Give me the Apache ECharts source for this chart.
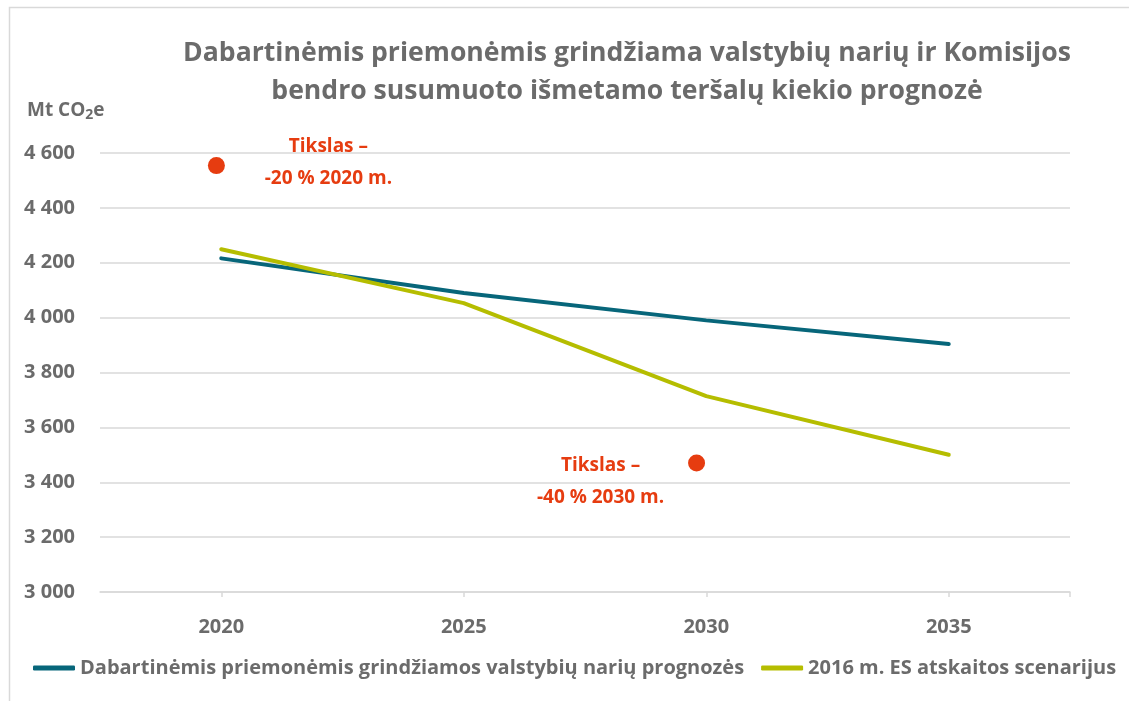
<!DOCTYPE html>
<html>
<head>
<meta charset="utf-8">
<script src="https://cdn.jsdelivr.net/npm/echarts@6/dist/echarts.min.js"></script>
<style>
html,body{margin:0;padding:0;background:#fff;}
#chart{width:1129px;height:701px;}
</style>
</head>
<body>
<div id="chart"></div>
<script>
// ---- data ----
const titleText = 'Dabartinėmis priemonėmis grindžiama valstybių narių ir Komisijos\nbendro susumuoto išmetamo teršalų kiekio prognozė';
const yAxisUnit = 'Mt CO{s|2}e';
const years = [2020, 2025, 2030, 2035];
const yearTicks = [2020, 2025, 2030, 2035, 2037.5];
const seriesNames = ['Dabartinėmis priemonėmis grindžiamos valstybių narių prognozės', '2016 m. ES atskaitos scenarijus'];
const currentMeasures = [4216, 4090, 3990, 3904];
const referenceScenario = [4249, 4053, 3714, 3500];
const targetYears = [2019.9, 2029.8];
const targetValues = [4554, 3470];
const targetLabels = ['Tikslas –\n-20 % 2020 m.', 'Tikslas –\n-40 % 2030 m.'];
const yTicks = [3000, 3200, 3400, 3600, 3800, 4000, 4200, 4400, 4600];

const FONT = 'Open Sans';
const GRAY = '#6b6b6b';
const TEAL = '#07667a';
const OLIVE = '#b5bd00';
const RED = '#e63c10';

const chart = echarts.init(document.getElementById('chart'));
const fmt = v => String(v).replace(/\B(?=(\d{3})+(?!\d))/g, ' ');

const option = {
  backgroundColor: '#fff',
  animation: false,
  graphic: [{
    type: 'rect', left: 7, top: 5, silent: true,
    shape: { width: 1140, height: 720 },
    style: { fill: 'none', stroke: '#d9d9d9', lineWidth: 1.5 }
  }],
  title: [{
    text: titleText,
    left: 622, top: 29, textAlign: 'center',
    textStyle: { fontFamily: FONT, fontSize: 26.6, fontWeight: 'bold', color: GRAY, lineHeight: 38 }
  }, {
    text: yAxisUnit,
    left: 22, top: 94,
    textStyle: {
      fontFamily: FONT, fontSize: 19, fontWeight: 'bold', color: GRAY,
      rich: { s: { fontFamily: FONT, fontSize: 14, fontWeight: 'bold', color: GRAY, verticalAlign: 'bottom', padding: [9, 0, 0, 0] } }
    }
  }],
  legend: {
    left: 33, top: 658, padding: 0, itemGap: 17, itemWidth: 42, itemHeight: 5, icon: 'roundRect',
    data: seriesNames,
    textStyle: { fontFamily: FONT, fontSize: 20, fontWeight: 'bold', color: GRAY }
  },
  grid: { left: 100, right: 59, top: 153, bottom: 109, containLabel: false },
  xAxis: {
    type: 'value', min: 2017.5, max: 2037.5,
    splitLine: { show: false },
    axisLine: { show: true, lineStyle: { color: '#d9d9d9', width: 1.5 } },
    axisTick: { show: true, length: 5, lineStyle: { color: '#d9d9d9', width: 1.5 }, customValues: yearTicks },
    axisLabel: { customValues: years, margin: 25, fontFamily: FONT, fontSize: 20, fontWeight: 'bold', color: GRAY, formatter: v => String(v) }
  },
  yAxis: {
    type: 'value', min: yTicks[0], max: yTicks[yTicks.length - 1], interval: 200,
    axisLine: { show: false }, axisTick: { show: false },
    splitLine: { lineStyle: { color: '#d9d9d9', width: 1.5 } },
    axisLabel: { margin: 25, fontFamily: FONT, fontSize: 20, fontWeight: 'bold', color: GRAY, formatter: fmt }
  },
  series: [{
    name: seriesNames[0], type: 'line', symbol: 'none',
    lineStyle: { color: TEAL, width: 4, cap: 'round' }, itemStyle: { color: TEAL },
    data: years.map((y, i) => [y, currentMeasures[i]])
  }, {
    name: seriesNames[1], type: 'line', symbol: 'none',
    lineStyle: { color: OLIVE, width: 4, cap: 'round' }, itemStyle: { color: OLIVE },
    data: years.map((y, i) => [y, referenceScenario[i]])
  }, {
    name: 'targets', type: 'scatter', symbolSize: 17,
    itemStyle: { color: RED, opacity: 1 },
    data: targetYears.map((y, i) => ({
      value: [y, targetValues[i]],
      label: {
        show: true, position: 'inside', formatter: targetLabels[i],
        offset: i === 0 ? [112, -3] : [-96, 19],
        fontFamily: FONT, fontSize: 19, fontWeight: 'bold', color: RED, lineHeight: 32, align: 'center'
      }
    }))
  }]
};
chart.setOption(option);
</script>
</body>
</html>
